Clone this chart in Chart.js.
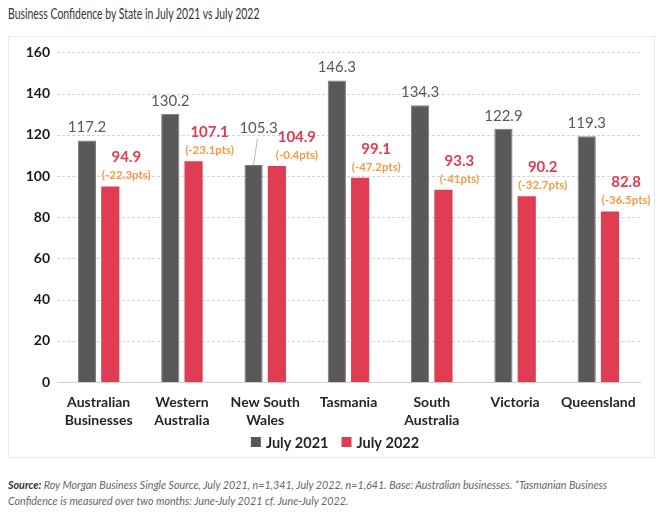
<!DOCTYPE html>
<html>
<head>
<meta charset="utf-8">
<script src="https://cdn.jsdelivr.net/npm/chart.js@4.4.0/dist/chart.umd.min.js"></script>
<style>
  body { margin: 0; background: #fff; width: 660px; height: 515px; position: relative; overflow: hidden; }
  #title { position: absolute; left: 8px; top: 5px; font-family: 'Lato', sans-serif; font-size: 14.5px; color: #333; white-space: nowrap; transform: scaleX(0.72); transform-origin: left top; }
  #box { position: absolute; left: 8px; top: 36px; width: 645px; height: 420px; border: 1px solid #ebebeb; }
  #note { position: absolute; left: 8px; top: 477px; font-family: 'Lato', sans-serif; font-size: 11.5px; font-style: italic; color: #666; line-height: 16px; white-space: nowrap; transform: scaleX(0.93); transform-origin: left top; }
  #note b { color: #333; }
</style>
</head>
<body>
<div id="title">Business Confidence by State in July 2021 vs July 2022</div>
<div id="box"><canvas id="chart" width="645" height="420"></canvas></div>
<div id="note"><b>Source:</b> Roy Morgan Business Single Source, July 2021, n=1,341, July 2022, n=1,641. Base: Australian businesses. *Tasmanian Business<br>Confidence is measured over two months: June-July 2021 cf. June-July 2022.</div>
<script>
// 数据
const categories = [['Australian', 'Businesses'], ['Western', 'Australia'], ['New South', 'Wales'], 'Tasmania', ['South', 'Australia'], 'Victoria', 'Queensland'];
const july2021 = [117.2, 130.2, 105.3, 146.3, 134.3, 122.9, 119.3];
const july2022 = [94.9, 107.1, 104.9, 99.1, 93.3, 90.2, 82.8];
const changePts = ['-22.3', '-23.1', '-0.4', '-47.2', '-41', '-32.7', '-36.5'];
const yTicks = [0, 20, 40, 60, 80, 100, 120, 140, 160];

const GREY = '#595959';
const RED = '#e03c52';
const ORANGE = '#f59a45';
const FONT = "'Lato', 'Open Sans', sans-serif";

// 虚线网格
const dashedGrid = {
    id: 'dashedGrid',
    beforeDatasetsDraw(chart) {
        const ctx = chart.ctx;
        const y = chart.scales.y;
        const area = chart.chartArea;
        ctx.save();
        ctx.strokeStyle = '#d4d4d4';
        ctx.lineWidth = 1;
        ctx.setLineDash([3, 2]);
        yTicks.forEach(v => {
            if (v === 0) return;
            const py = Math.round(y.getPixelForValue(v)) + 0.5;
            ctx.beginPath();
            ctx.moveTo(area.left, py);
            ctx.lineTo(area.right, py);
            ctx.stroke();
        });
        ctx.restore();
    }
};

// 标签绘制插件
const valueLabels = {
    id: 'valueLabels',
    afterDatasetsDraw(chart) {
        const ctx = chart.ctx;
        const grey = chart.getDatasetMeta(0).data;
        const red = chart.getDatasetMeta(1).data;
        ctx.save();
        ctx.textAlign = 'center';
        ctx.textBaseline = 'middle';
        grey.forEach((bar, i) => {
            ctx.fillStyle = GREY;
            ctx.font = '15px ' + FONT;
            if (i === 2) {
                // NSW 标签上移，加引线
                ctx.strokeStyle = '#bbbbbb';
                ctx.lineWidth = 1;
                ctx.beginPath();
                ctx.moveTo(bar.x, bar.y);
                ctx.lineTo(bar.x + 4, bar.y - 27);
                ctx.stroke();
                ctx.fillText(july2021[i].toFixed(1), bar.x + 5, bar.y - 37);
            } else {
                ctx.fillText(july2021[i].toFixed(1), bar.x, bar.y - 13);
            }
        });
        red.forEach((bar, i) => {
            const dx = i === 2 ? 20 : 16;
            ctx.fillStyle = RED;
            ctx.font = 'bold 15px ' + FONT;
            ctx.fillText(july2022[i].toFixed(1), bar.x + dx, bar.y - 29);
            ctx.fillStyle = ORANGE;
            ctx.font = 'bold 11.5px ' + FONT;
            ctx.fillText('(' + changePts[i] + 'pts)', bar.x + dx, bar.y - 11);
        });
        ctx.restore();
    }
};

// 图例（自绘，位置更好控制）
const bottomLegend = {
    id: 'bottomLegend',
    afterDraw(chart) {
        const ctx = chart.ctx;
        const sets = chart.data.datasets;
        const cy = chart.chartArea.bottom + 60;
        ctx.save();
        ctx.font = 'bold 14.5px ' + FONT;
        ctx.textBaseline = 'middle';
        const box = 10, gap = 5, space = 13;
        const widths = sets.map(d => box + gap + ctx.measureText(d.label).width);
        const total = widths.reduce((a, b) => a + b, 0) + space * (sets.length - 1);
        let x = 326 - total / 2;
        sets.forEach((d, i) => {
            ctx.fillStyle = d.backgroundColor;
            ctx.fillRect(x, cy - box / 2, box, box);
            ctx.fillStyle = '#262626';
            ctx.fillText(d.label, x + box + gap, cy + 1);
            x += widths[i] + space;
        });
        ctx.restore();
    }
};

const ctx = document.getElementById('chart').getContext('2d');
new Chart(ctx, {
    type: 'bar',
    data: {
        labels: categories,
        datasets: [{
            label: 'July 2021',
            data: july2021,
            backgroundColor: GREY,
            borderColor: '#7a7a7a',
            borderWidth: 1,
            categoryPercentage: 0.56,
            barPercentage: 0.78
        }, {
            label: 'July 2022',
            data: july2022,
            backgroundColor: RED,
            borderWidth: 0,
            categoryPercentage: 0.56,
            barPercentage: 0.78
        }]
    },
    options: {
        responsive: false,
        animation: false,
        layout: { padding: { top: 8, right: 14, bottom: 16, left: 0 } },
        plugins: {
            legend: { display: false },
            tooltip: { enabled: false }
        },
        scales: {
            x: {
                grid: { display: false, drawTicks: false },
                border: { color: '#cfcfcf' },
                ticks: {
                    color: '#262626',
                    padding: 12,
                    maxRotation: 0,
                    autoSkip: false,
                    font: { family: FONT, size: 14, weight: 'bold', lineHeight: 1.25 }
                }
            },
            y: {
                min: 0,
                max: 160,
                afterBuildTicks(scale) { scale.ticks = yTicks.map(v => ({ value: v })); },
                grid: { display: false, drawTicks: false },
                border: { display: false },
                ticks: {
                    color: '#1a1a1a',
                    padding: 7,
                    font: { family: FONT, size: 14, weight: 'bold' }
                },
                afterFit(scale) { scale.width = 48; }
            }
        }
    },
    plugins: [dashedGrid, valueLabels, bottomLegend]
});
</script>
</body>
</html>
